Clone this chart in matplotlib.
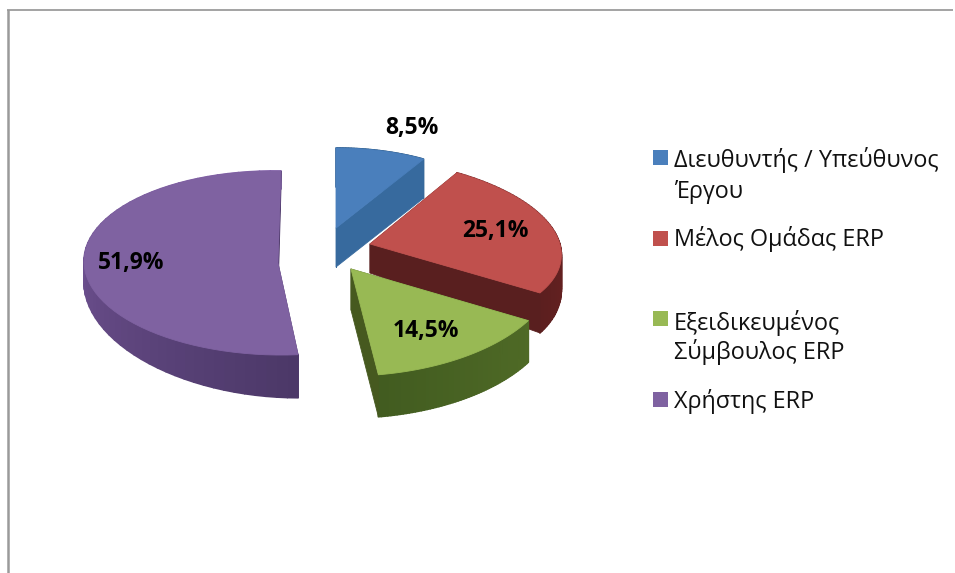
import numpy as np
import matplotlib
matplotlib.use('Agg')
import matplotlib.pyplot as plt
from matplotlib.colors import to_rgb

plt.rcParams['font.family'] = ['Open Sans', 'DejaVu Sans']

# data
names = [['Διευθυντής / Υπεύθυνος', 'Έργου'], ['Μέλος Ομάδας ERP'],
         ['Εξειδικευμένος', 'Σύμβουλος ERP'], ['Χρήστης ERP']]
values = [8.5, 25.1, 14.5, 51.9]

# look of the slices
top_col = ['#4a7fbc', '#c0504d', '#98b954', '#7f62a1']
face_col = ['#376a9e', '#591f1f', '#46591f', '#4c3868']
wall_a = ['#2f5d8c', '#7a2525', '#4f6a26', '#4c3868']
wall_b = ['#2f5d8c', '#5c1f1f', '#425c20', '#8864b0']

# apex in pixels, then the map of the unit circle (perspective of each slice)
apex = [(336, 228), (370, 244), (351, 269), (278, 263)]
maps = [(172, 0, 0, 80), (191, -12, -5.5, 86), (205, -3, 4, 107), (194, 3, -3, 92)]
# depth at apex + rim change with x and y
depths = [(39, 0, 0), (29, 5, -13), (41, 0, -1), (30, 9.6, -12)]

label_pos = [(412, 128), (495, 231), (426, 331), (131, 263)]
box_y = [150, 231, 311, 392]
text_y = [[167, 198], [246], [330, 359], [408]]

fig = plt.figure(figsize=(9.55, 5.73), dpi=100)
ax = fig.add_axes([0, 0, 1, 1])
ax.set_xlim(0, 955)
ax.set_ylim(573, 0)
ax.axis('off')

# frame of the chart area
ax.plot([7.5, 7.5], [10, 573], color='#9a9a9a', lw=1.8, solid_capstyle='butt')
ax.plot([7, 953], [10, 10], color='#8a8a8a', lw=1.1, solid_capstyle='butt')


def point(k, theta, r=1.0, low=False):
    a, b, c, d = maps[k]
    x = r * np.sin(theta)
    y = r * np.cos(theta)
    px = apex[k][0] + a * x + b * y
    py = apex[k][1] - c * x - d * y
    if low:
        d0, e, f = depths[k]
        py = py + d0 + e * x + f * y
    return px, py


def fill(xs, ys, col, lw=0.6):
    ax.fill(xs, ys, color=col, lw=lw, joinstyle='round')


def cut_face(k, t):
    ax0, ay0 = point(k, t, 0.0)
    ax1, ay1 = point(k, t, 1.0)
    bx0, by0 = point(k, t, 0.0, low=True)
    bx1, by1 = point(k, t, 1.0, low=True)
    fill([ax0, ax1, bx1, bx0], [ay0, ay1, by1, by0], face_col[k])


edges = np.radians(np.cumsum([0] + values) * 3.6)
for k in [3, 0, 1, 2]:
    t0 = edges[k]
    t1 = edges[k + 1]
    ts = np.linspace(t0, t1, 60)
    # start face is the hidden one, goes under the wall
    cut_face(k, t0)
    # outer wall, small pieces so the shade can change along the rim
    c1 = np.array(to_rgb(wall_a[k]))
    c2 = np.array(to_rgb(wall_b[k]))
    for j in range(len(ts) - 1):
        seg = ts[j:j + 2]
        tx, ty = point(k, seg)
        bx, by = point(k, seg, low=True)
        s = j / (len(ts) - 2)
        fill(np.r_[tx, bx[::-1]], np.r_[ty, by[::-1]], tuple(c1 + (c2 - c1) * s), lw=1.2)
    cut_face(k, t1)
    # top
    tx, ty = point(k, ts)
    cx, cy = point(k, t0, 0.0)
    fill(np.r_[cx, tx], np.r_[cy, ty], top_col[k])

for k in range(len(values)):
    txt = ('%.1f%%' % values[k]).replace('.', ',')
    ax.text(label_pos[k][0], label_pos[k][1], txt, fontsize=16.5, fontweight='bold',
            color='black', ha='center', va='center')

# legend
for k in range(len(names)):
    ax.fill([653, 668, 668, 653], [box_y[k], box_y[k], box_y[k] + 15, box_y[k] + 15],
            color=top_col[k], lw=0)
    for line, yy in zip(names[k], text_y[k]):
        ax.text(674, yy, line, fontsize=16.8, color='#111111', ha='left', va='baseline')

fig.savefig('out.png', dpi=100)
